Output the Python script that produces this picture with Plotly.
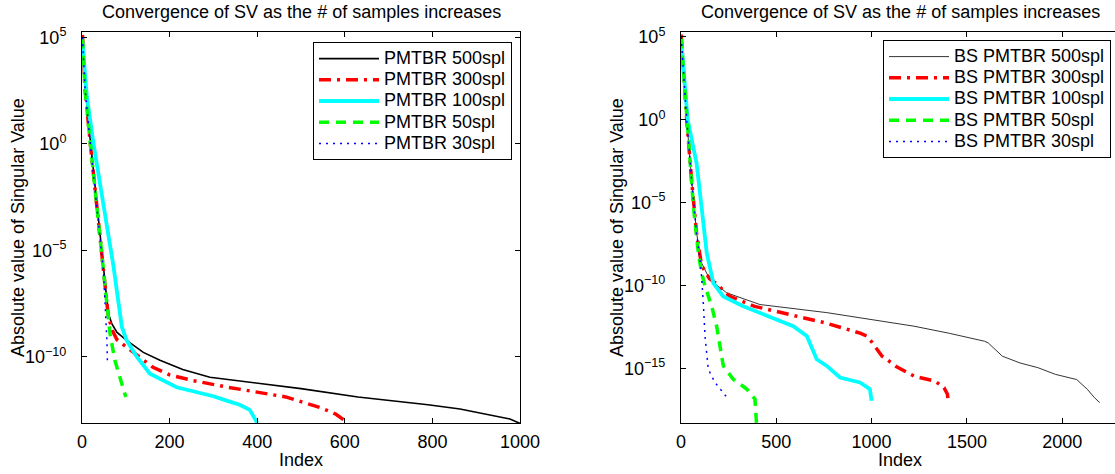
import plotly.graph_objects as go

TITLE = "Convergence of SV as the # of samples increases"
XLABEL = "Index"
YLABEL = "Absolute value of Singular Value"

# ---------------- Left panel (PMTBR) ----------------
L_names = ["PMTBR 500spl", "PMTBR 300spl", "PMTBR 100spl", "PMTBR 50spl", "PMTBR 30spl"]

L500_x = [1, 7, 18, 34, 49, 60, 68, 80, 102, 140, 178, 230, 292, 406, 500, 630, 790, 863, 954, 977, 1000]
L500_y = [1.2e5, 5.2e2, 2.3, 1.7e-3, 1.2e-6, 1.1e-8, 3.6e-9, 1.4e-9, 5.9e-10, 1.6e-10, 6.8e-11,
          2.5e-11, 1.1e-11, 5.4e-12, 3.2e-12, 1.3e-12, 5.6e-13, 3.5e-13, 1.5e-13, 1.2e-13, 7.4e-14]

L300_x = [1, 7, 18, 34, 49, 60, 70, 80, 102, 130, 162, 200, 254, 330, 406, 465, 546, 580, 600]
L300_y = [1.3e5, 4.0e2, 1.6, 1.3e-3, 1.0e-6, 7.9e-9, 1.6e-9, 6.3e-10, 2.8e-10, 1.0e-10, 3.2e-11,
          1.4e-11, 7.6e-12, 3.8e-12, 2.1e-12, 1.3e-12, 4.0e-13, 2.0e-13, 1.0e-13]

L100_x = [1, 11, 26, 49, 72, 91, 102, 125, 155, 216, 260, 300, 330, 360, 383, 398, 400]
L100_y = [6.0e4, 1.7e2, 1.1, 1.1e-3, 1.7e-6, 2.5e-9, 5.9e-10, 1.0e-10, 1.6e-11, 3.7e-12,
          2.2e-12, 1.4e-12, 8.7e-13, 5.6e-13, 3.2e-13, 1.0e-13, 7.9e-14]

L50_x = [1, 7, 18, 34, 49, 60, 64, 75, 94, 100]
L50_y = [8.7e4, 3.2e2, 1.6, 1.3e-3, 1.0e-6, 6.3e-9, 1.2e-9, 6.8e-11, 2.6e-12, 1.3e-12]

L30_x = [1, 7, 18, 34, 49, 52, 55, 57, 58, 60]
L30_y = [1.0e5, 4.0e2, 1.6, 1.3e-3, 1.0e-6, 6.3e-8, 5.0e-9, 5.0e-10, 5.6e-11, 5.0e-11]

# ---------------- Right panel (BS PMTBR) ----------------
R_names = ["BS PMTBR 500spl", "BS PMTBR 300spl", "BS PMTBR 100spl", "BS PMTBR 50spl", "BS PMTBR 30spl"]

R500_x = [1, 30, 56, 82, 108, 152, 240, 414, 765, 997, 1222, 1408, 1593, 1612, 1686, 1779, 1872,
          1965, 2076, 2132, 2169, 2197]
R500_y = [1.3e5, 1.0, 2.3e-4, 1.4e-7, 2.3e-9, 2.2e-10, 3.6e-11, 7.1e-12, 2.3e-12, 8.9e-13,
          3.5e-13, 1.3e-13, 4.3e-14, 3.4e-14, 5.4e-15, 2.1e-15, 1.1e-15, 4.3e-16, 2.1e-16,
          5.4e-17, 1.7e-17, 8.5e-18]

R300_x = [1, 30, 56, 82, 108, 150, 182, 256, 386, 572, 758, 943, 974, 1000, 1055, 1079, 1129,
          1222, 1333, 1380, 1398, 1400]
R300_y = [1.4e5, 1.0, 2.0e-4, 1.3e-7, 1.6e-9, 2.5e-10, 1.4e-10, 2.2e-11, 5.5e-12, 1.7e-12,
          5.5e-13, 1.3e-13, 8.9e-14, 4.0e-14, 5.4e-15, 3.5e-15, 1.3e-15, 3.4e-16, 1.7e-16,
          6.8e-17, 2.7e-17, 1.6e-17]

R100_x = [1, 35, 82, 108, 135, 170, 222, 327, 502, 589, 660, 712, 765, 834, 939, 991, 1000]
R100_y = [5.8e4, 1.0, 2.3e-3, 5.8e-6, 9.1e-9, 1.4e-10, 2.2e-11, 5.6e-12, 8.9e-13, 3.5e-13,
          8.9e-14, 3.5e-15, 1.4e-15, 2.8e-16, 1.4e-16, 5.6e-17, 1.1e-17]

R50_x = [1, 30, 65, 91, 108, 126, 161, 187, 205, 222, 274, 345, 388, 397, 400]
R50_y = [8.0e4, 1.0, 5.8e-6, 9.1e-9, 5.8e-10, 9.1e-11, 5.6e-12, 3.5e-13, 2.2e-14, 1.4e-15,
         2.2e-16, 5.6e-17, 1.4e-17, 8.9e-19, 1.0e-19]

R30_x = [1, 30, 56, 82, 100, 108, 117, 126, 143, 178, 240]
R30_y = [1.0e5, 1.0, 2.0e-4, 1.3e-7, 3.2e-9, 3.5e-10, 8.9e-12, 8.9e-14, 8.9e-16, 1.4e-16, 1.8e-17]

L_xticks = [0, 200, 400, 600, 800, 1000]
R_xticks = [0, 500, 1000, 1500, 2000]
L_yticks = [1e5, 1e0, 1e-5, 1e-10]
L_yticktext = ["10<sup>5</sup>", "10<sup>0</sup>", "10<sup>−5</sup>", "10<sup>−10</sup>"]
R_yticks = [1e5, 1e0, 1e-5, 1e-10, 1e-15]
R_yticktext = ["10<sup>5</sup>", "10<sup>0</sup>", "10<sup>−5</sup>", "10<sup>−10</sup>", "10<sup>−15</sup>"]

# ---------------- styles ----------------
FONT = "Liberation Sans, Arial, Helvetica, sans-serif"
FS = 18
W, H = 1115, 474
styles_L = [
    dict(color="black", width=1.6, dash="solid"),
    dict(color="#ff0000", width=3.5, dash="12px,6px,3px,6px"),
    dict(color="#00ffff", width=3.8, dash="solid"),
    dict(color="#00ff00", width=3.5, dash="10px,7px"),
    dict(color="#0000ff", width=1.5, dash="2px,5px"),
]
styles_R = [dict(s) for s in styles_L]
styles_R[0] = dict(color="black", width=0.8, dash="solid")

def legend_label(s):
    return '<span style="font-size:%dpx">%s</span>' % (FS, s)

fig = go.Figure()
L_data = [(L500_x, L500_y), (L300_x, L300_y), (L100_x, L100_y), (L50_x, L50_y), (L30_x, L30_y)]
R_data = [(R500_x, R500_y), (R300_x, R300_y), (R100_x, R100_y), (R50_x, R50_y), (R30_x, R30_y)]

for (x, y), name, st in zip(L_data, L_names, styles_L):
    fig.add_trace(go.Scatter(x=x, y=y, mode="lines", name=legend_label(name), line=st,
                             xaxis="x", yaxis="y", legend="legend"))
for (x, y), name, st in zip(R_data, R_names, styles_R):
    fig.add_trace(go.Scatter(x=x, y=y, mode="lines", name=legend_label(name), line=st,
                             xaxis="x2", yaxis="y2", legend="legend2"))

def px_x(p):
    return p / W

def px_y(p):
    return 1 - p / H

top, bot = 32, 423
ax_common = dict(showline=True, linecolor="black", linewidth=1, mirror="ticks",
                 ticks="inside", ticklen=5, tickcolor="black", tickwidth=1,
                 showgrid=False, zeroline=False,
                 tickfont=dict(family=FONT, size=FS, color="black"))

R_x_right = (W - 681) / 0.1906

fig.update_layout(
    width=W, height=H, margin=dict(l=0, r=0, t=0, b=0, autoexpand=False),
    paper_bgcolor="white", plot_bgcolor="white",
    font=dict(family=FONT, size=FS, color="black"),
    xaxis=dict(domain=[px_x(82), px_x(520)], range=[0, 1000], tickvals=L_xticks,
               anchor="y", ticklabelstandoff=2, **ax_common),
    yaxis=dict(domain=[px_y(bot), px_y(top)], type="log", range=[-13.11, 5.25],
               tickvals=L_yticks, ticktext=L_yticktext, anchor="x", ticklabelstandoff=11,
               **ax_common),
    xaxis2=dict(domain=[px_x(681), 1.0], range=[0, R_x_right], tickvals=R_xticks,
                anchor="y2", ticklabelstandoff=2, **ax_common),
    yaxis2=dict(domain=[px_y(bot), px_y(top)], type="log", range=[-18.3, 5.3],
                tickvals=R_yticks, ticktext=R_yticktext, anchor="x2", ticklabelstandoff=11,
                **{**ax_common, "mirror": False}),
    legend=dict(x=px_x(512), y=px_y(42), xanchor="right", yanchor="top",
                bordercolor="black", borderwidth=1, bgcolor="white",
                font=dict(family=FONT, size=14), itemwidth=60, tracegroupgap=0),
    legend2=dict(x=px_x(1111), y=px_y(40), xanchor="right", yanchor="top",
                 bordercolor="black", borderwidth=1, bgcolor="white",
                 font=dict(family=FONT, size=14), itemwidth=60, tracegroupgap=0),
    showlegend=True,
)

annots = [
    dict(text=TITLE, x=px_x(301), y=px_y(12)),
    dict(text=TITLE, x=px_x(900), y=px_y(12)),
    dict(text=XLABEL, x=px_x(301), y=px_y(460)),
    dict(text=XLABEL, x=px_x(900), y=px_y(460)),
    dict(text=YLABEL, x=px_x(18), y=px_y(228), textangle=-90),
    dict(text=YLABEL, x=px_x(617), y=px_y(228), textangle=-90),
]
for a in annots:
    fig.add_annotation(xref="paper", yref="paper", showarrow=False,
                       xanchor="center", yanchor="middle",
                       font=dict(family=FONT, size=FS, color="black"), **a)

fig.write_html("out.html", config={"displayModeBar": False},
               post_script="document.body.style.margin='0';document.body.style.overflow='hidden';")
